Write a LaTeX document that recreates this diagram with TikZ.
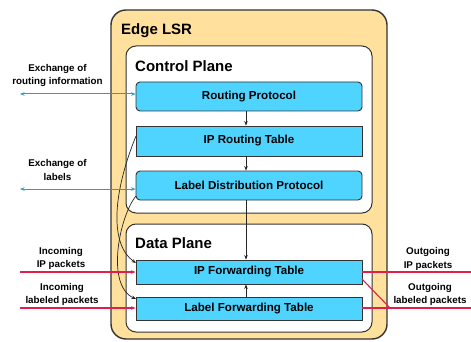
\documentclass[tikz,border=0pt]{standalone}
\usepackage{fontspec}
\setmainfont{Liberation Sans}
\usetikzlibrary{arrows.meta}
\definecolor{lsrfill}{HTML}{FFE09C}
\definecolor{tblfill}{HTML}{4FD4FF}
\definecolor{edgegray}{HTML}{333333}
\definecolor{sigteal}{HTML}{2A9EBE}
\definecolor{pktred}{HTML}{E0204A}
\tikzset{
  lsrbox/.style={draw=edgegray, line width=1.4pt, fill=lsrfill, rounded corners=15pt, inner sep=0pt},
  planebox/.style={draw=edgegray, line width=1pt, fill=white, rounded corners=10pt, inner sep=0pt},
  tbl/.style={draw=edgegray, line width=0.9pt, fill=tblfill, inner sep=0pt,
    minimum width=226pt, font=\bfseries\fontsize{11.6}{13}\selectfont},
  rtbl/.style={tbl, rounded corners=4pt},
  heading/.style={anchor=west, inner sep=0pt, font=\bfseries\fontsize{15}{17}\selectfont},
  sidelabel/.style={align=center, inner sep=0pt, font=\bfseries\fontsize{9.8}{13.3}\selectfont},
  tip/.style={-{Stealth[length=4.5pt,width=3.5pt]}},
  flow/.style={tip, draw=black!85, line width=0.7pt},
  sigline/.style={{Stealth[length=4.5pt,width=3.5pt]}-{Stealth[length=4.5pt,width=3.5pt]}, draw=sigteal, line width=1pt},
  pktin/.style={-{Stealth[length=4.5pt,width=3.5pt]}, draw=pktred, line width=1.1pt},
  pktout/.style={draw=pktred, line width=1.1pt}
}
\begin{document}
\begin{tikzpicture}[x=1pt, y=-1pt]
\useasboundingbox (0,0) rectangle (471,342);

% containers
\node[lsrbox, minimum width=276pt, minimum height=329pt] (lsr) at (249,174.5) {};
\node[planebox, minimum width=246pt, minimum height=167pt] (cp) at (249,129.5) {};
\node[planebox, minimum width=246pt, minimum height=108pt] (dp) at (249,278) {};

\node[heading] (lsrtitle) at (121,31) {Edge LSR};
\node[heading] (cptitle) at (135,66) {Control Plane};
\node[heading] (dptitle) at (135,243) {Data Plane};

% tables
\node[rtbl, minimum height=29pt] (rp) at (249,96.5) {Routing Protocol};
\node[tbl, minimum height=30pt] (iprt) at (249,141) {IP Routing Table};
\node[rtbl, minimum height=29pt] (ldp) at (249,185.5) {Label Distribution Protocol};
\node[tbl, minimum height=24pt] (ipft) at (249,272) {IP Forwarding Table};
\node[tbl, minimum height=23pt] (lft) at (249,308.5) {Label Forwarding Table};

% vertical flows
\coordinate (vx) at (246,0);
\draw[flow] (rp.south -| vx) -- (iprt.north -| vx);
\draw[flow] (iprt.south -| vx) -- (ldp.north -| vx);
\draw[flow] (ldp.south -| vx) -- (ipft.north -| vx);
\draw[flow] (lft.north -| vx) -- (ipft.south -| vx);

% curved flows into the data plane
\coordinate (iprtout) at (136,136);
\coordinate (ldpout) at (136,196);
\coordinate (ipftin) at (136,263);
\coordinate (lftin) at (136,299);
\draw[flow] (iprtout) .. controls (112,195) and (110,245) .. (ipftin);
\draw[flow] (ldpout) .. controls (120,215) and (105,285) .. (lftin);

% signalling exchanges
\coordinate (rtx) at (20,94);
\coordinate (lbx) at (20,189);
\draw[sigline] (rtx) -- (rtx -| rp.west);
\draw[sigline] (lbx) -- (lbx -| ldp.west);
\node[sidelabel] (rtlabel) at (57.5,75.5) {Exchange of\\routing information};
\node[sidelabel] (lblabel) at (57.5,170) {Exchange of\\labels};

% packet paths
\coordinate (ipin) at (20,272);
\coordinate (lbin) at (20,308);
\coordinate (ipout) at (471,272);
\coordinate (lbout) at (471,308);
\coordinate (swapfrom) at (362,279);
\coordinate (swapto) at (390,308);
\draw[pktin] (ipin) -- (ipin -| ipft.west);
\draw[pktin] (lbin) -- (lbin -| lft.west);
\draw[pktout] (ipout -| ipft.east) -- (ipout);
\draw[pktout] (lbout -| lft.east) -- (lbout);
\draw[pktout] (swapfrom) -- (swapto);

\node[sidelabel] (inip) at (61,258.5) {Incoming\\IP packets};
\node[sidelabel] (inlb) at (62,294.5) {Incoming\\labeled packets};
\node[sidelabel] (outip) at (428,259) {Outgoing\\IP packets};
\node[sidelabel] (outlb) at (430,294.5) {Outgoing\\labeled packets};
\end{tikzpicture}
\end{document}
